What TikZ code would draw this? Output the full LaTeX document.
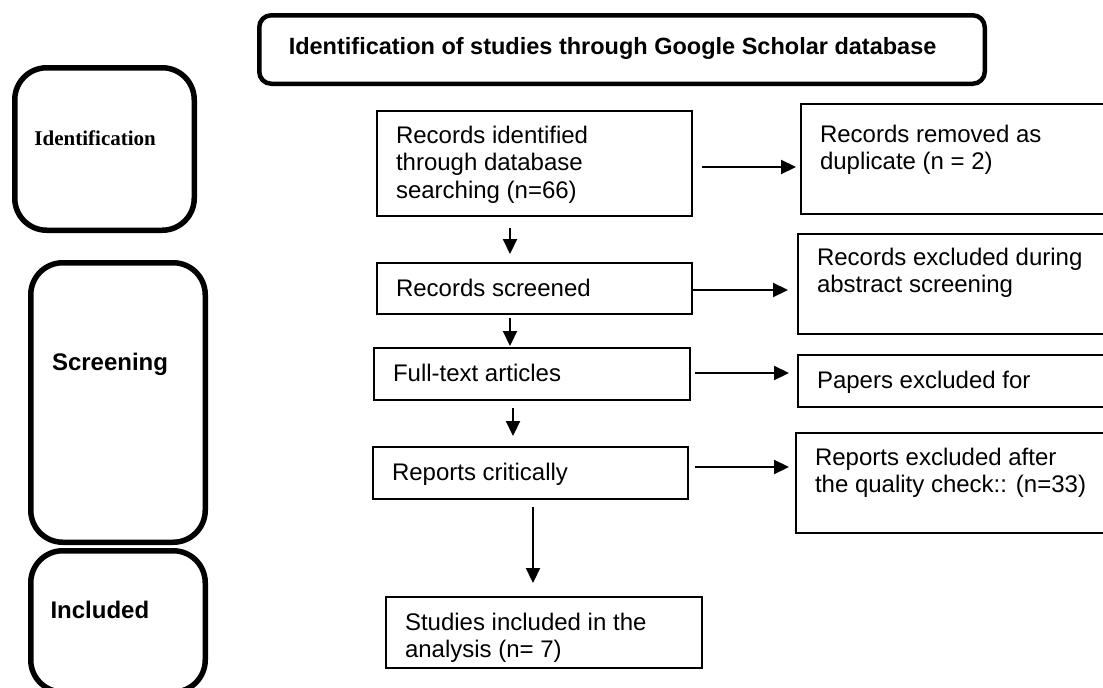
\documentclass[tikz,border=0pt]{standalone}
\usepackage{fontspec}
\setmainfont{Liberation Sans}
\newfontfamily\tnrfont{Liberation Serif}
\usetikzlibrary{arrows.meta,calc}
\newcommand\bxt[5]{\parbox[t][#2][t]{#1}{\vspace*{#3}\raggedright\leftskip=#4\relax\strut #5\par}}
\tikzset{
  pbox/.style={draw, line width=2pt, inner sep=0pt, outer sep=0pt, anchor=north west,
    font=\fontsize{24}{27.5}\selectfont},
  lbox/.style={draw, line width=5.5pt, rounded corners=32pt, inner sep=0pt, outer sep=0pt,
    anchor=north west, font=\bfseries\fontsize{24}{27.5}\selectfont},
  tbox/.style={draw, line width=4.5pt, rounded corners=12pt, inner sep=0pt, outer sep=0pt,
    anchor=north west, font=\bfseries\fontsize{23.5}{27.5}\selectfont},
  arr/.style={line width=2.2pt, -{Triangle[length=15pt,width=14pt]}}
}
\begin{document}
\begin{tikzpicture}[x=1pt,y=-1pt]
\useasboundingbox[fill=white] (0,0) rectangle (1103,688);
% title
\node[tbox] (title) at (259.25,15.25) {\bxt{725.5pt}{68.5pt}{20.5pt}{29.5pt}{Identification of studies through Google Scholar database}};
% left stage boxes
\node[lbox, font=\tnrfont\bfseries\fontsize{21}{25}\selectfont] (ident) at (14.75,67.75) {\bxt{179.5pt}{162.5pt}{59.75pt}{19.75pt}{Identification}};
\node[lbox] (screen) at (30.75,262.75) {\bxt{174.5pt}{279.5pt}{88pt}{21.25pt}{Screening}};
\node[lbox] (incl) at (30.75,550.75) {\bxt{174.5pt}{141.25pt}{48pt}{19.75pt}{Included}};
% main column
\node[pbox] (b1) at (377,111) {\bxt{315pt}{105pt}{12.75pt}{19pt}{Records identified\\through database\\searching (n=66)}};
\node[pbox] (b2) at (377,263) {\bxt{315pt}{51pt}{14.25pt}{19pt}{Records screened}};
\node[pbox] (b3) at (374,348) {\bxt{316pt}{52pt}{14.25pt}{19pt}{Full-text articles}};
\node[pbox] (b4) at (373,447) {\bxt{315pt}{52pt}{13.75pt}{19pt}{Reports critically}};
\node[pbox] (b5) at (386,597) {\bxt{316pt}{71pt}{13.75pt}{19pt}{Studies included in the\\analysis (n= 7)}};
% right column
\node[pbox] (r1) at (801,104) {\bxt{309pt}{110pt}{18.75pt}{19pt}{Records removed as\\duplicate (n = 2)}};
\node[pbox] (r2) at (798,234) {\bxt{312pt}{100pt}{11.75pt}{19pt}{Records excluded during\\abstract screening}};
\node[pbox] (r3) at (798,355) {\bxt{312pt}{52pt}{13.75pt}{19pt}{Papers excluded for}};
\node[pbox] (r4) at (796,433) {\bxt{314pt}{100pt}{12.75pt}{19pt}{Reports excluded after\\the quality check:: (n=33)}};
% horizontal arrows
\draw[arr] ($(b1.east)+(10,3.5)$) -- ($(b1.east -| r1.west)+(-5,3.5)$);
\draw[arr] ($(b2.east)+(1,1.5)$) -- ($(b2.east -| r2.west)+(-10,1.5)$);
\draw[arr] ($(b3.east)+(5,-1)$) -- ($(b3.east -| r3.west)+(-9,-1)$);
\draw[arr] ($(b4.east)+(7,-6)$) -- ($(b4.east -| r4.west)+(-7,-6)$);
% vertical arrows
\draw[arr] ($(b1.south west)+(133,12)$) -- ($(b1.south west |- b2.north)+(133,-9)$);
\draw[arr] ($(b2.south west)+(133,4)$) -- ($(b2.south west |- b3.north)+(133,-2)$);
\draw[arr] ($(b3.south west)+(139,8)$) -- ($(b3.south west |- b4.north)+(139,-11)$);
\draw[arr] ($(b4.south west)+(160,8)$) -- ($(b4.south west |- b5.north)+(160,-14)$);
\end{tikzpicture}
\end{document}
